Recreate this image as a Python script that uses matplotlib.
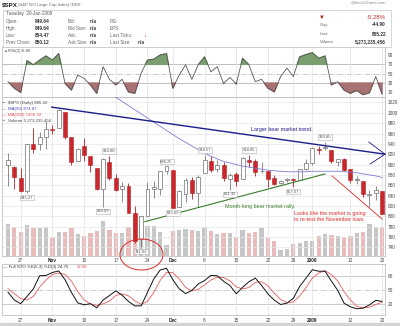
import matplotlib
matplotlib.use('Agg')
import matplotlib.pyplot as plt
from matplotlib.patches import Ellipse, Rectangle
import numpy as np

plt.rcParams['font.family'] = ['Liberation Sans', 'DejaVu Sans']

# ---------------- data ----------------
dates = ['Oct 23', 'Oct 24', 'Oct 27', 'Oct 28', 'Oct 29', 'Oct 30', 'Oct 31',
         'Nov 3', 'Nov 4', 'Nov 5', 'Nov 6', 'Nov 7', 'Nov 10', 'Nov 11', 'Nov 12',
         'Nov 13', 'Nov 14', 'Nov 17', 'Nov 18', 'Nov 19', 'Nov 20', 'Nov 21',
         'Nov 24', 'Nov 25', 'Nov 26', 'Nov 28', 'Dec 1', 'Dec 2', 'Dec 3', 'Dec 4',
         'Dec 5', 'Dec 8', 'Dec 9', 'Dec 10', 'Dec 11', 'Dec 12', 'Dec 15', 'Dec 16',
         'Dec 17', 'Dec 18', 'Dec 19', 'Dec 22', 'Dec 23', 'Dec 24', 'Dec 26',
         'Dec 29', 'Dec 30', 'Dec 31', 'Jan 2', 'Jan 5', 'Jan 6', 'Jan 7', 'Jan 8',
         'Jan 9', 'Jan 12', 'Jan 13', 'Jan 14', 'Jan 15', 'Jan 16', 'Jan 20']
opens = [899.08, 895.22, 874.28, 848.92, 939.51, 939.38, 953.11, 968.67, 971.31,
         1001.84, 952.40, 907.44, 936.75, 917.15, 893.39, 853.13, 904.36, 873.23,
         852.34, 859.03, 805.87, 755.84, 801.20, 853.40, 852.90, 886.89, 888.61,
         817.94, 843.60, 869.75, 844.43, 882.71, 906.48, 892.17, 898.35, 871.79,
         881.07, 871.53, 908.16, 905.98, 886.96, 887.20, 874.31, 863.87, 869.51,
         872.37, 870.58, 890.59, 902.99, 929.17, 931.17, 927.45, 905.73, 909.91,
         890.40, 869.79, 867.28, 841.99, 844.45, 849.64]
highs = [922.83, 896.30, 893.78, 940.51, 969.97, 963.23, 984.38, 975.57, 1007.51,
         1001.84, 952.40, 931.46, 951.95, 917.15, 893.39, 913.01, 916.88, 882.29,
         865.90, 864.57, 820.52, 801.20, 865.60, 868.94, 887.68, 896.25, 888.61,
         850.54, 873.12, 875.60, 879.42, 918.57, 916.26, 908.27, 904.63, 883.24,
         884.63, 914.66, 918.85, 911.02, 905.47, 887.37, 880.44, 869.79, 873.74,
         873.70, 891.12, 910.32, 934.73, 936.63, 943.85, 927.45, 910.00, 911.93,
         890.40, 877.02, 867.28, 851.59, 858.13, 849.64]
lows = [858.44, 852.85, 846.75, 845.27, 922.26, 928.50, 930.95, 958.82, 971.31,
        949.86, 899.73, 906.90, 907.47, 884.90, 850.48, 818.69, 869.88, 848.98,
        826.84, 806.18, 747.78, 741.02, 801.20, 834.99, 841.37, 881.21, 815.69,
        817.94, 827.60, 833.60, 818.41, 882.71, 885.38, 885.45, 868.73, 851.35,
        857.72, 871.53, 895.94, 877.44, 883.02, 857.09, 860.10, 861.44, 866.52,
        857.07, 870.58, 889.67, 899.35, 919.53, 927.28, 902.37, 896.81, 888.31,
        864.32, 862.02, 836.93, 817.04, 830.66, 804.47]
closes = [908.11, 876.77, 848.92, 940.51, 930.09, 954.09, 968.75, 966.30, 1005.75,
          952.77, 904.88, 930.99, 919.21, 898.95, 852.30, 911.29, 873.29, 850.75,
          859.12, 806.58, 752.44, 800.03, 851.81, 857.39, 887.68, 896.24, 816.21,
          848.81, 870.74, 845.22, 876.07, 909.70, 888.67, 899.24, 873.59, 879.73,
          868.57, 913.18, 904.42, 885.28, 887.88, 871.63, 863.16, 868.15, 872.80,
          869.42, 890.64, 903.25, 931.80, 927.45, 934.70, 906.65, 909.73, 890.35,
          870.26, 871.79, 842.62, 843.74, 850.12, 805.22]
prev_close_first = 896.78
volume_bn = [5.8, 5.2, 4.3, 5.6, 5.0, 5.0, 5.2, 3.4, 4.3, 4.3, 5.0, 4.0, 3.6, 4.1,
             4.5, 6.3, 4.7, 4.1, 4.1, 5.2, 6.8, 7.2, 5.4, 5.4, 4.3, 2.0, 4.5, 4.7,
             4.9, 4.7, 4.5, 5.2, 4.5, 4.0, 4.1, 4.1, 3.4, 4.7, 4.1, 4.3, 5.0, 3.2,
             2.7, 1.1, 1.3, 2.2, 2.3, 2.7, 2.7, 3.6, 4.0, 3.8, 3.6, 3.4, 3.6, 4.1,
             4.3, 5.8, 5.2, 5.27]
ma50_start = 15
ma50 = [1046, 1038, 1030, 1022, 1014, 1006, 998, 990, 982, 974, 966, 958, 950, 943,
        936, 929, 922, 916, 911, 906, 903, 900, 897, 895, 893, 891, 889, 888, 887,
        886, 886, 886, 886, 887, 887, 887, 887, 887, 886, 885, 884, 882, 880, 878,
        874.87]
rsi = [33, 19, 10, 78, 69, 79, 88, 79, 93, 29, 15, 47, 40, 26, 8, 65, 38, 26, 38,
       11, 8, 51, 79, 81, 90, 93, 19, 47, 69, 38, 69, 86, 54, 65, 29, 42, 28, 83,
       69, 33, 38, 19, 11, 44, 62, 44, 86, 91, 95, 83, 88, 26, 33, 15, 8, 14, 5, 9,
       44, 6.9]
sto_k = [44.8, 27.7, 19.6, 35.5, 52.1, 80.7, 81.4, 87.7, 91.2, 71.9, 44.5, 21.5,
         17.3, 19.7, 10.6, 27.8, 37.4, 47.7, 38.3, 24.7, 14.8, 15.0, 44.4, 73.8,
         93.2, 97.0, 71.9, 52.3, 41.7, 48.7, 62.6, 70.2, 81.4, 80.7, 68.6, 59.3,
         41.3, 55.5, 67.6, 75.5, 59.4, 41.0, 27.5, 17.9, 20.9, 31.3, 57.3, 75.4,
         93.8, 90.5, 90.7, 69.1, 48.8, 20.8, 12.9, 8.7, 10.0, 16.9, 26.9, 24.75]
sto_d = [52.3, 41.5, 30.7, 27.6, 35.7, 56.1, 71.4, 83.3, 86.8, 83.6, 69.2, 46.0,
         27.8, 19.5, 15.9, 19.4, 25.3, 37.6, 41.1, 36.9, 25.9, 18.2, 24.7, 44.4,
         70.5, 88.0, 87.4, 73.7, 55.3, 47.6, 51.0, 60.5, 71.4, 77.4, 76.9, 69.5,
         56.4, 52.0, 54.8, 66.2, 67.5, 58.6, 42.6, 28.8, 22.1, 23.4, 36.5, 54.7,
         75.5, 86.6, 91.7, 83.4, 69.5, 46.2, 27.5, 14.1, 10.5, 11.9, 17.9, 22.86]
tick_days = ['Oct 27', 'Nov 3', 'Nov 10', 'Nov 17', 'Nov 24', 'Dec 1', 'Dec 8',
             'Dec 15', 'Dec 22', 'Dec 29', 'Jan 2', 'Jan 12', 'Jan 20']
tick_labels = ['27', 'Nov', '10', '17', '24', 'Dec', '8', '15', '22', '29', '2009',
               '12', '20']
bold_ticks = ['Nov', 'Dec', '2009']
price_ticks = list(range(740, 1021, 20))
label_days = ['Oct 28', 'Nov 13', 'Nov 14', 'Nov 21', 'Nov 28', 'Dec 1', 'Dec 8',
              'Dec 12', 'Dec 17', 'Dec 29', 'Jan 6']
label_kind = ['low', 'low', 'high', 'low', 'high', 'low', 'high', 'low', 'high',
              'low', 'high']

# ---------------- figure ----------------
W, H = 400, 326
fig = plt.figure(figsize=(W / 100, H / 100), dpi=100)
fig.patch.set_facecolor('white')


def fx(x):
    return x / W


def fy(y):
    return 1 - y / H


def add_ax(x0, y0, x1, y1):
    return fig.add_axes([fx(x0), fy(y1), (x1 - x0) / W, (y1 - y0) / H])


def T(x, y, s, **kw):
    kw.setdefault('va', 'center')
    kw.setdefault('fontsize', 3.3)
    return fig.text(fx(x), fy(y), s, **kw)


x = np.arange(len(dates))
idx = {d: i for i, d in enumerate(dates)}
tick_x = [idx[d] for d in tick_days]
XL = (-0.946, 59.46)
SP = '#c2c2c2'
TXT = '#444444'


def style(a):
    for s in a.spines.values():
        s.set_color(SP)
        s.set_linewidth(0.6)
    a.set_xlim(*XL)
    a.set_xticks(tick_x)
    a.tick_params(length=0, labelsize=3.4, colors=TXT)
    a.yaxis.tick_right()
    a.tick_params(axis='y', pad=2)
    a.grid(axis='x', color='#e2e2e2', lw=0.5)


def set_xlabels(a, pad):
    a.set_xticklabels(tick_labels)
    a.tick_params(axis='x', pad=pad)
    for t in a.get_xticklabels():
        if t.get_text() in bold_ticks:
            t.set_fontweight('bold')
            t.set_color('#222222')


# ---------------- header ----------------
T(2, 4.5, '$SPX', fontsize=4.5, fontweight='bold', color='#222222')
T(17.5, 4.6, '(S&P 500 Large Cap Index) INDX', color='#666666', fontsize=3.1)
T(386, 2.8, '@StockCharts.com', color='#8a8a8a', fontsize=3.0, ha='right')
fig.patches.append(Rectangle((fx(3), fy(46.5)), (391 - 3) / W, (46.5 - 9.5) / H,
                             transform=fig.transFigure, fill=False,
                             edgecolor='#d0d0d0', lw=0.6))
T(6, 14, 'Tuesday  20-Jan-2009', color='#555555')
rows_y = [21.7, 28.7, 35.7, 42.7]
col1 = ['Open:', 'High:', 'Low:', 'Prev Close:']
col1v = ['849.64', '849.64', '804.47', '850.12']
col2 = ['Bid:', 'Bid Size:', 'Ask:', 'Ask Size:']
col3 = ['P/E:', 'EPS:', 'Last Ticks:', 'Last Size:']
for yy, a, av, b, c in zip(rows_y, col1, col1v, col2, col3):
    T(6, yy, a, color='#666666')
    T(50, yy, av, ha='right', fontweight='bold', color='#333333', fontsize=3.4)
    T(68, yy, b, color='#666666')
    T(97, yy, 'n/a', ha='right', fontweight='bold', color='#333333', fontsize=3.4)
    T(110, yy, c, color='#666666')
T(145, 35.7, '↓', color='#cc2222', fontweight='bold', fontsize=4.2, ha='center')
T(138, 42.7, 'n/a', fontweight='bold', color='#333333', fontsize=3.4)
T(322, 17.3, '▼', color='#b71c1c', fontsize=4.2, ha='center')
T(386, 17.3, '-5.28%', color='#c62828', fontsize=4.3, ha='right')
for yy, a, b in zip([25, 34, 41.7], ['Chg:', 'Last:', 'Volume:'],
                    ['-44.90', '805.22', '5,273,235,456']):
    T(320, yy, a, color='#666666', fontsize=3.1)
    T(386, yy, b, ha='right', fontweight='bold', color='#333333', fontsize=3.4)

# ---------------- RSI panel ----------------
ax_r = add_ax(2, 47, 385, 97)
style(ax_r)
ax_r.set_xticklabels([])
ax_r.set_ylim(0, 107.3)
ax_r.set_yticks([10, 30, 50, 70, 90])
for lv in (70, 30):
    ax_r.axhline(lv, color='#b5b5b5', lw=0.6, zorder=1)
ax_r.axhline(50, color='#c0c0c0', lw=0.6, ls='-.', zorder=1)
rv = np.array(rsi, dtype=float)
ax_r.fill_between(x, rv, 70, where=rv > 70, interpolate=True, color='#7a9e6e', zorder=2)
ax_r.fill_between(x, rv, 30, where=rv < 30, interpolate=True, color='#a87272', zorder=2)
ax_r.plot(x, rv, color='#555555', lw=0.6, zorder=3)
T(3.5, 50.7, '▲', color='#4f7f45', fontsize=2.8)
T(8, 50.7, 'RSI(2) 6.86', color='#555555', fontsize=3.2)

# ---------------- main panel ----------------
ax = add_ax(2, 97, 385, 256)
axv = ax.twinx()
style(ax)
axv.set_xlim(*XL)
axv.set_yticks([])
for s in axv.spines.values():
    s.set_visible(False)
ax.set_zorder(axv.get_zorder() + 1)
ax.patch.set_visible(False)
ax.set_ylim(723.1, 1030.6)
ax.set_yticks(price_ticks)
ax.grid(axis='y', color='#e6e6e6', lw=0.5)
set_xlabels(ax, 1.8)

prev = [prev_close_first] + closes[:-1]
vcol = ['#c6c6c6' if c >= p else '#e9bcbc' for c, p in zip(closes, prev)]
axv.bar(x, volume_bn, width=0.68, color=vcol, zorder=1)
axv.set_ylim(0, 28.6)

o = np.array(opens); h = np.array(highs); l = np.array(lows); c = np.array(closes)
up = c >= o
wick_col = np.where(up, '#7a7a7a', '#b02020')
ax.vlines(x, l, h, colors=wick_col, lw=0.6, zorder=3)
body_lo = np.minimum(o, c)
body_h = np.maximum(np.abs(c - o), 0.9)
ax.bar(x[up], body_h[up], bottom=body_lo[up], width=0.62, color='white',
       edgecolor='#6e6e6e', lw=0.5, zorder=4)
ax.bar(x[~up], body_h[~up], bottom=body_lo[~up], width=0.62, color='#c8282d',
       edgecolor='#b82025', lw=0.4, zorder=4)

ax.plot(x[ma50_start:], ma50, color='#7c7cd0', lw=0.6, zorder=5)

for d, k in zip(label_days, label_kind):
    i = idx[d]
    v = highs[i] if k == 'high' else lows[i]
    ax.annotate(f'{v:.2f}', (i, v), xytext=(0, 2 if k == 'high' else -2),
                textcoords='offset points', ha='center',
                va='bottom' if k == 'high' else 'top', fontsize=3.0, color='#555555',
                bbox=dict(boxstyle='square,pad=0.18', fc='white', ec='#b0b0b0', lw=0.4),
                zorder=7)

# legend lines
T(3, 102.5, '▪', color='#555555', fontsize=3.3)
T(7.5, 102.5, '$SPX (Daily) 805.22', color='#444444', fontsize=3.2)
T(2.5, 109, '—', color='#4040c0', fontsize=3.2)
T(7.5, 109, 'MA(50) 874.87', color='#4a4ab8', fontsize=3.2)
T(2.5, 115, '—', color='#e05050', fontsize=3.2)
T(7.5, 115, 'MA(200) 1156.32', color='#e05050', fontsize=3.2)
T(3, 120.5, '▪', color='#555555', fontsize=3.3)
T(7.5, 120.5, 'Volume 5,273,235,456', color='#444444', fontsize=3.2)

# annotations
navy = '#1c1c8a'
ax.plot([6.9, 59.46], [1011, 920], color=navy, lw=1.0, zorder=6, clip_on=False)
ax.plot([56.9, 59.46, 57.1], [943.6, 920, 901], color=navy, lw=0.6, zorder=6,
        clip_on=False)
ax.text(43.2, 968, 'Larger bear market trend.', color=navy, fontsize=3.9,
        ha='center', va='center', zorder=8)
green = '#3a7d2a'
ax.plot([21.6, 50.0], [789.5, 881.7], color=green, lw=0.8, zorder=6)
ax.text(39.7, 818, 'Month-long bear market rally.', color=green, fontsize=3.9,
        ha='center', va='center', zorder=8)
red = '#e02828'
ax.plot([51.1, 59.0], [878, 794.6], color=red, lw=0.6, zorder=6)
ax.text(45.1, 799.5, 'Looks like the market is going\nto re-test the November lows.',
        color=red, fontsize=3.9, ha='left', va='center', linespacing=1.25, zorder=8)
ax.add_patch(Ellipse((21.05, 726), 6.8, 60, fill=False, edgecolor=red, lw=0.7,
                     clip_on=False, zorder=8))

# ---------------- STO panel ----------------
ax_s = add_ax(2, 264, 385, 315)
style(ax_s)
ax_s.set_ylim(-5, 106.3)
ax_s.set_yticks([20, 50, 80])
set_xlabels(ax_s, 2.4)
for lv in (80, 20):
    ax_s.axhline(lv, color='#c4c4c4', lw=0.6, zorder=1)
ax_s.axhline(50, color='#c4c4c4', lw=0.6, ls='-.', zorder=1)
ax_s.plot(x, sto_d, color='#e85a5a', lw=0.6, zorder=3)
ax_s.plot(x, sto_k, color='#111111', lw=0.7, zorder=4)
T(3, 266.8, '— Full STO %K(5,3) %D(3) 24.75,', color='#333333', fontsize=3.2)
T(76.5, 266.8, '22.86', color='#e05050', fontsize=3.2)

# bottom bar
fig.patches.append(Rectangle((0, 0), 1, 3 / H, transform=fig.transFigure,
                             color='#d4d4d4'))

fig.savefig('out.png', dpi=100, facecolor='white')
